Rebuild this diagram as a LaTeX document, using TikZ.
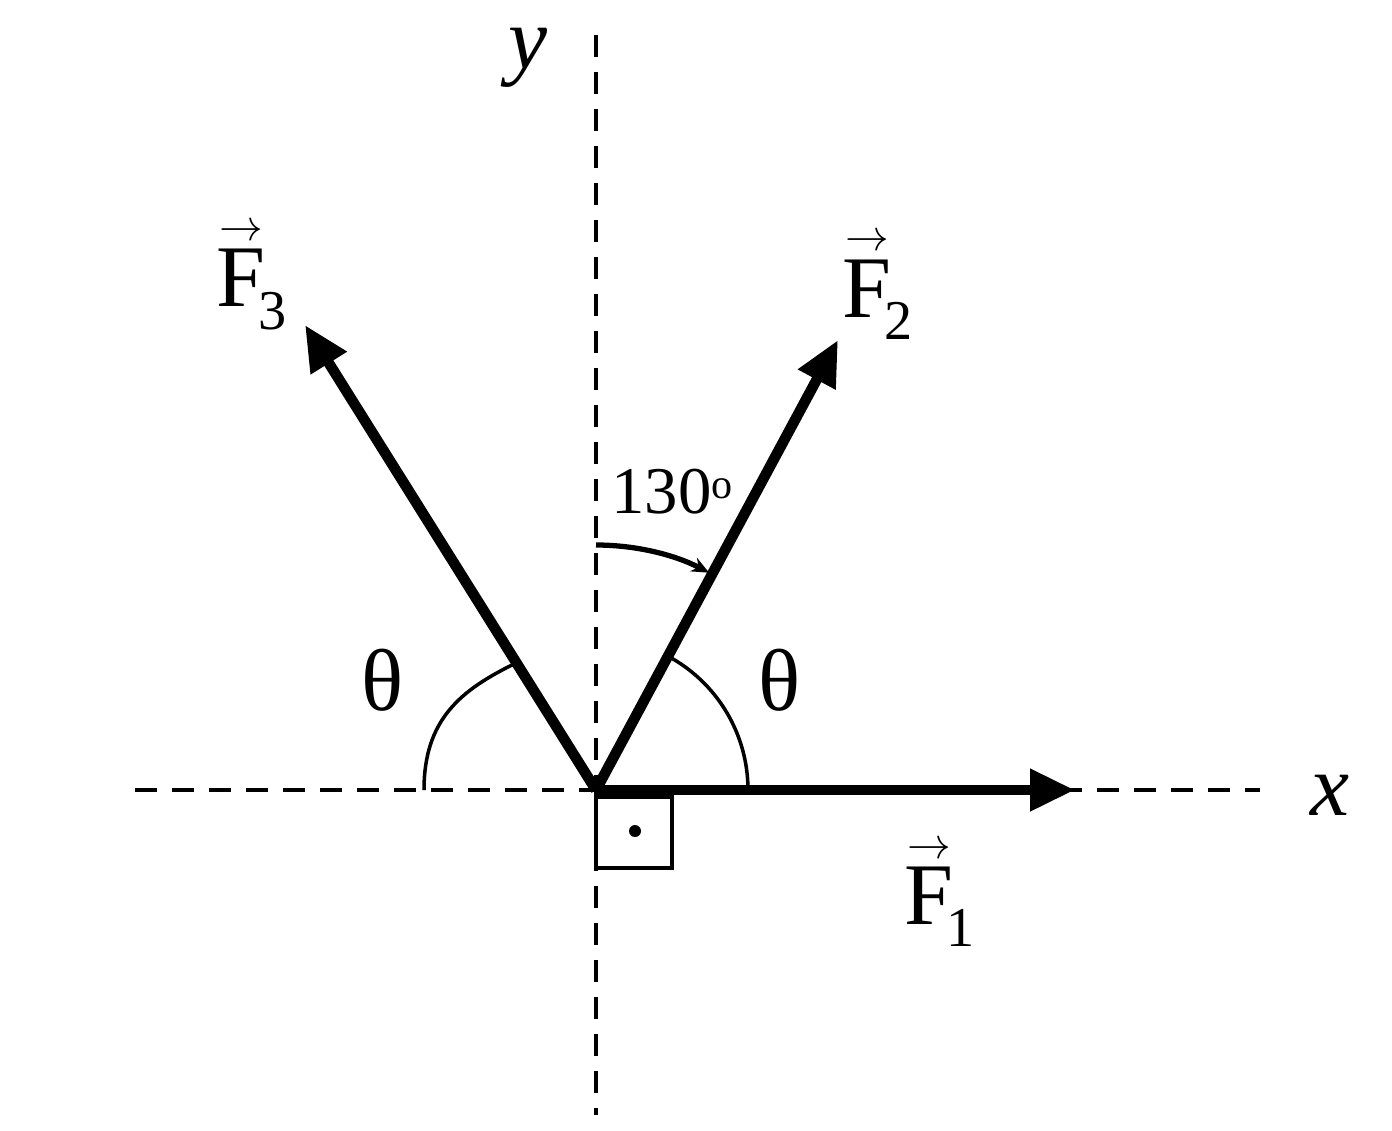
\documentclass[tikz,border=0pt]{standalone}
\usepackage{amsmath}
\usepackage{fontspec}
\setmainfont{Liberation Serif}
\usetikzlibrary{arrows.meta}
\newcommand{\vF}[1]{$\overset{\scriptstyle\rightarrow}{\textrm{F}}\!_{\textrm{\fontsize{32}{36}\selectfont #1}}$}
\begin{document}
\begin{tikzpicture}[x=0.02cm,y=-0.02cm,
  axis/.style={line width=2.4pt,dash pattern=on 0.44cm off 0.3cm},
  force/.style={line width=6pt,-{Triangle[length=0.9cm,width=0.8cm]}},
  arc/.style={line width=2pt},
  lab/.style={font=\fontsize{50}{60}\selectfont,inner sep=0pt}]
\useasboundingbox (0,0) rectangle (1392,1130);
\coordinate (O) at (596,790);
\coordinate (yt) at (596,35); \coordinate (yb) at (596,1115);
\coordinate (xl) at (135,790); \coordinate (xr) at (1260,790);
\coordinate (f1) at (1075,790); \coordinate (f2) at (838,340); \coordinate (f3) at (305,325);
\draw[axis] (yt) -- (yb);
\draw[axis] (xl) -- (xr);
\draw[force] (O) -- (f1);
\draw[force] (O) -- (f2);
\draw[force] (O) -- (f3);
\draw[arc] (O) ++(0:152) arc[start angle=0,end angle=-61.7,radius=152];
\draw[arc] (O) ++(-122:150) .. controls (460,690) and (424,720) .. (424,790);
\draw[line width=3pt,-{Stealth[length=0.35cm,width=0.3cm]}] (O) ++(-90:245) arc[start angle=-90,end angle=-62.5,radius=245];
\draw[line width=2pt] (596,797) rectangle (672,868);
\fill (635,831) circle (6);
\node[lab] (ly) at (528,58) {\textit{y}};
\node[lab] (lx) at (1330,795) {\textit{x}};
\node[lab] (l3) at (252,275) {\vF{3}};
\node[lab] (l2) at (878,285) {\vF{2}};
\node[lab] (l1) at (940,892) {\vF{1}};
\node[lab] (t1) at (383,680) {θ};
\node[lab] (t2) at (780,680) {θ};
\node[font=\fontsize{38}{44}\selectfont,inner sep=0pt] (a) at (672,492) {130\raisebox{0.5ex}{\fontsize{24}{28}\selectfont o}};
\end{tikzpicture}
\end{document}
